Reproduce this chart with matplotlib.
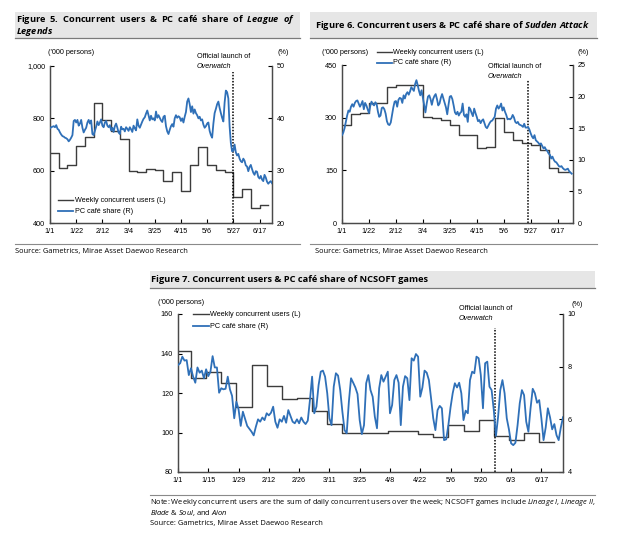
import matplotlib
matplotlib.use("Agg")
import matplotlib.pyplot as plt
from matplotlib import font_manager
from matplotlib.patches import Rectangle
from matplotlib.lines import Line2D
from matplotlib.transforms import Bbox
import numpy as np
import pandas as pd

# ---------------- DATA ----------------
ticks_21 = ["1/1", "1/22", "2/12", "3/4", "3/25", "4/15", "5/6", "5/27", "6/17"]
ticks_14 = ["1/1", "1/15", "1/29", "2/12", "2/26", "3/11", "3/25", "4/8", "4/22",
            "5/6", "5/20", "6/3", "6/17"]

# Figure 5: League of Legends
lol_users = [667, 610, 620, 695, 730, 858, 795, 752, 722, 598, 596, 606, 601,
             562, 594, 521, 620, 690, 620, 602, 594, 499, 531, 458, 470]
lol_share = [38.1, 38.3, 38.4, 38.5, 38.3, 38.7, 38.0, 37.8, 37.3, 36.9,
             36.6, 36.5, 36.3, 36.2, 36.0, 35.6, 35.9, 36.3, 36.8,
             39.5, 39.7, 39.2, 39.7, 38.6, 39.0, 39.7, 38.2, 37.3, 37.8,
             38.2, 39.2, 39.7, 39.0, 39.6, 37.0, 36.8, 37.6, 38.4, 39.4,
             38.7, 39.2, 39.8, 38.6, 38.3, 39.2, 39.5, 38.6, 38.3, 38.7,
             37.7, 38.2, 37.4, 38.5, 39.0, 38.2, 37.3, 37.0, 38.4, 37.9,
             38.0, 37.5, 38.3, 38.0, 37.6, 38.3, 37.9, 37.4, 38.6,
             38.1, 37.7, 39.8, 38.6, 38.2, 38.8, 39.4, 39.9, 40.2, 40.9,
             41.5, 40.6, 39.6, 40.5, 39.8, 40.0, 39.6, 41.3, 40.1, 40.6,
             40.1, 39.6, 39.3, 40.3, 40.5, 38.5, 37.5, 37.0, 37.8, 38.5,
             38.9, 38.4, 40.0, 40.6, 40.1, 40.4, 40.2, 39.5, 40.0,
             39.2, 40.3, 41.2, 43.2, 43.8, 42.7, 41.2, 42.3, 40.9, 41.7,
             41.0, 40.6, 40.0, 40.3, 39.6, 39.8, 38.8, 38.2, 38.5, 39.0,
             39.2, 37.6, 36.8, 36.3, 39.0, 41.0, 41.8, 42.7, 43.2, 42.0,
             41.0, 40.1, 39.4, 43.0, 45.3, 45.0, 43.8, 38.5, 35.3, 33.7,
             33.8, 35.0, 33.5, 32.9, 33.2, 32.3, 31.8, 31.6, 32.3, 31.9,
             31.0, 30.8, 29.9, 30.7, 31.1, 30.3, 29.6, 29.2, 29.9, 29.8,
             28.8, 28.5, 29.0, 28.3, 28.0, 29.2, 28.7, 27.9, 27.5,
             27.8, 28.0, 27.6]

# Figure 6: Sudden Attack
sa_users = [279, 310, 313, 341, 341, 388, 393, 394, 394, 303, 300, 292, 279,
            251, 251, 213, 217, 298, 260, 236, 229, 222, 208, 156, 146]
sa_share = [13.9, 14.3, 15.0, 16.0, 17.0, 17.8, 17.6, 18.4, 18.8, 18.4,
            19.0, 19.3, 19.4, 18.9, 18.4, 18.8, 19.3, 18.0, 19.0, 18.6,
            18.0, 17.4, 18.5, 19.2, 18.8, 18.6, 19.1, 18.8, 17.6, 16.8,
            17.0, 18.2, 18.3, 18.0, 17.3, 16.1, 15.6, 15.5, 15.9, 17.1,
            18.3, 19.2, 19.3, 18.4, 19.5, 19.8, 19.7, 19.0, 20.2, 19.7,
            20.4, 20.7, 20.3, 20.8, 21.5, 21.2, 20.9, 22.0, 22.6, 21.8,
            20.9, 20.2, 21.0, 19.8, 18.5, 17.5, 18.9, 20.0, 20.2, 19.6,
            18.7, 19.6, 20.1, 20.4, 19.6, 18.6, 18.9, 19.8, 20.4, 19.7,
            19.0, 18.3, 17.2, 18.7, 20.0, 20.1, 19.6, 18.6, 17.5, 17.2,
            17.6, 17.0, 17.4, 17.6, 18.9, 17.1, 16.8, 17.2, 16.0, 18.3,
            18.0, 17.4, 16.9, 18.1, 17.4, 16.8, 16.1, 16.3, 15.8, 16.2,
            16.4, 15.8, 15.2, 15.0, 15.4, 15.8, 16.1, 16.2, 16.5, 16.8,
            18.1, 18.6, 18.1, 18.4, 18.9, 17.8, 18.3, 17.6, 17.1, 16.4,
            16.5, 16.4, 16.6, 17.1, 16.7, 16.0, 15.8, 16.0, 15.6, 15.5,
            15.4, 15.2, 15.7, 15.1, 15.1, 15.2, 14.8, 14.2, 13.7, 13.4,
            13.9, 13.1, 12.9, 12.7, 12.4, 12.6, 12.2, 11.8, 12.0, 11.6,
            11.4, 11.0, 10.8, 10.2, 10.5, 10.0, 9.7, 9.6, 9.3, 9.0,
            8.9, 9.0, 8.7, 8.5, 8.4, 8.5, 8.6, 8.2, 8.0, 7.8]

# Figure 7: NCSOFT games
nc_users = [141.4, 127.8, 130.8, 125.2, 113.1, 134.2, 123.5, 116.8, 117.3,
            110.9, 104.1, 99.9, 99.9, 99.6, 100.9, 100.9, 99.2, 97.9, 103.8,
            100.9, 106.3, 98.2, 96.2, 99.6, 95.0]
nc_share = [8.06, 8.13, 8.38, 8.23, 8.25, 7.68, 7.94, 7.62, 7.39, 7.97,
            7.77, 7.85, 7.56, 7.90, 7.64, 7.81, 8.40, 7.97, 7.97, 7.01,
            7.18, 7.14, 7.16, 7.62, 7.14, 6.89, 6.04, 6.67, 6.38, 5.75,
            6.29, 6.02, 5.75, 5.64, 5.53, 5.39, 5.72, 6.00, 5.91, 6.07,
            5.97, 6.23, 6.15, 6.25, 6.48, 5.91, 5.68, 6.00, 5.91, 6.13,
            5.87, 6.35, 6.13, 5.91, 5.85, 6.00, 5.85, 6.07, 5.91, 5.82,
            5.95, 6.73, 7.62, 6.23, 6.48, 7.30, 7.81, 7.85, 7.62, 6.99,
            6.04, 5.78, 7.24, 7.75, 7.66, 7.11, 6.29, 5.59, 5.47, 6.67,
            7.56, 7.39, 7.21, 6.96, 5.97, 5.44, 5.78, 7.37, 7.68,
            7.11, 6.86, 6.10, 5.66, 7.18, 7.68, 7.43, 7.62, 7.81, 6.23,
            6.54, 7.49, 7.68, 7.39, 5.78, 7.24, 7.64, 7.56, 6.73, 8.32,
            8.23, 8.48, 8.38, 6.86, 7.21, 7.85, 7.77, 7.49, 6.80, 6.04,
            5.59, 6.35, 6.51, 6.42, 5.21, 5.24, 5.78, 6.45, 6.99, 7.37,
            7.21, 7.39, 6.99, 5.97, 6.33, 6.23, 7.49, 7.81, 7.75, 8.38,
            8.32, 7.68, 6.42, 8.13, 8.19, 7.24, 7.11, 6.35, 5.37, 6.10,
            7.11, 7.49, 6.99, 6.04, 5.62, 5.09, 5.02, 5.11, 5.78, 6.61,
            7.11, 6.92, 5.91, 5.53, 6.42, 7.16, 6.99, 6.63, 6.73, 6.04,
            5.21, 5.69, 6.42, 6.08, 5.62, 5.82, 5.40, 5.21, 5.69, 6.08]

# ---------------- STYLE / HELPERS ----------------
names = {f.name for f in font_manager.fontManager.ttflist}
NARROW = 'Liberation Sans Narrow' if 'Liberation Sans Narrow' in names else 'Liberation Sans'
BODY = 'Open Sans' if 'Open Sans' in names else 'DejaVu Sans'
plt.rcParams['font.family'] = [NARROW, 'DejaVu Sans']
plt.rcParams['mathtext.fontset'] = 'custom'
plt.rcParams['mathtext.it'] = BODY + ':italic'
plt.rcParams['mathtext.bf'] = BODY + ':italic:bold'
plt.rcParams['mathtext.rm'] = BODY

BLUE = '#2f70b8'
BLACK = '#3c3c3c'
SPINE = '#4a4a4a'
BAND = '#e6e6e6'
LAB = 5.2
TITLE = 6.65
SMALL = 5.4

W, H = 620, 544
fig = plt.figure(figsize=(6.2, 5.44), dpi=100)


def X(px):
    return px / W


def Y(py):
    return 1 - py / H


def day_of(md):
    d = pd.to_datetime("2016/" + md, format="%Y/%m/%d")
    return (d - pd.Timestamp("2016-01-01")).days


def fig_line(x0, x1, y0, y1, **kw):
    fig.add_artist(Line2D([X(x0), X(x1)], [Y(y0), Y(y1)], **kw))


def ftext(x, y, s, size, family=BODY, weight='normal', clip=None, **kw):
    t = fig.text(X(x), Y(y), s, fontsize=size, family=family, weight=weight,
                 va='center', ha='left', zorder=6, **kw)
    if clip is not None:
        t.set_clip_box(Bbox.from_extents(clip[0], 0, clip[1], H))
        t.set_clip_on(True)
    return t


def band(x0, x1, y0, y1):
    fig.add_artist(Rectangle((X(x0), Y(y1)), X(x1) - X(x0), Y(y0) - Y(y1),
                             transform=fig.transFigure, facecolor=BAND,
                             edgecolor='none', zorder=5))
    fig_line(x0, x1, y1, y1, color='#7a7a7a', lw=0.9, zorder=5)


def make_panel(l, r, t, b, xmax, xticks, lticks, llabels, rticks, rlabels):
    ax = fig.add_axes([X(l), Y(b), X(r) - X(l), Y(t) - Y(b)])
    ax2 = ax.twinx()
    for a in (ax, ax2):
        a.spines['top'].set_visible(False)
        for s in a.spines.values():
            s.set_linewidth(0.9)
            s.set_color(SPINE)
        a.tick_params(direction='in', length=3, width=0.8, labelsize=LAB,
                      pad=3.5, colors='black')
        a.patch.set_visible(False)
    ax.set_xlim(0, xmax)
    ax.set_xticks([day_of(tk) for tk in xticks])
    ax.set_xticklabels(xticks)
    ax.set_ylim(lticks[0], lticks[-1])
    ax.set_yticks(lticks)
    ax.set_yticklabels(llabels)
    ax2.set_ylim(rticks[0], rticks[-1])
    ax2.set_yticks(rticks)
    ax2.set_yticklabels(rlabels)
    return ax, ax2


def draw_series(ax, ax2, users, first_week_day, end_day, share):
    xs = [first_week_day + 7 * i for i in range(len(users))] + [end_day]
    ys = list(users) + [users[-1]]
    ax.step(xs, ys, where='post', color=BLACK, lw=1.0, zorder=2)
    ax2.plot(np.arange(len(share)), share, color=BLUE, lw=1.3, zorder=3)


def legend(x0, x1, y_top, y_bot, xt):
    fig_line(x0, x1, y_top, y_top, color=BLACK, lw=1.0)
    fig_line(x0, x1, y_bot, y_bot, color=BLUE, lw=1.3)
    fig.text(X(xt), Y(y_top), 'Weekly concurrent users (L)', fontsize=LAB,
             va='center', ha='left')
    fig.text(X(xt), Y(y_bot), 'PC café share (R)', fontsize=LAB,
             va='center', ha='left')


def launch_note(x, y1, y2):
    fig.text(X(x), Y(y1), 'Official launch of', fontsize=LAB, va='center', ha='left')
    fig.text(X(x), Y(y2), 'Overwatch', fontsize=LAB, style='italic', va='center', ha='left')


SOURCE = "Source: Gametrics, Mirae Asset Daewoo Research"

# ---------------- FIGURE 5 ----------------
ax, ax2 = make_panel(50, 272, 66, 223, 178, ticks_21,
                     [400, 600, 800, 1000], ['400', '600', '800', '1,000'],
                     [20, 30, 40, 50], ['20', '30', '40', '50'])
draw_series(ax, ax2, lol_users, 0, 175, lol_share)
ax.axvline(day_of("5/27"), ymin=0, ymax=0.96, color='black', lw=1.1, ls=(0, (1, 1)))
legend(58, 73, 200, 211, 75)
launch_note(197, 57, 67)
fig.text(X(48), Y(53), "('000 persons)", fontsize=LAB, va='center', ha='left')
fig.text(X(278), Y(53), "(%)", fontsize=LAB, va='center', ha='left')
band(15, 300, 12, 38)
ftext(16, 19, r"Figure  5.  Concurrent  users  &  PC  café  share  of  $\mathbf{League\ \ of}$",
      TITLE, weight='bold', clip=(0, 299))
ftext(16, 31.5, r"$\mathbf{Legends}$", TITLE, weight='bold')
fig_line(15, 300, 244, 244, color='#8a8a8a', lw=0.8)
ftext(15, 251, SOURCE, SMALL)

# ---------------- FIGURE 6 ----------------
ax, ax2 = make_panel(342, 573, 65, 223, 180, ticks_21,
                     [0, 150, 300, 450], ['0', '150', '300', '450'],
                     [0, 5, 10, 15, 20, 25], ['0', '5', '10', '15', '20', '25'])
draw_series(ax, ax2, sa_users, 0, 177, sa_share)
ax.axvline(day_of("5/25"), ymin=0, ymax=0.905, color='black', lw=1.1, ls=(0, (1, 1)))
legend(377, 392, 52, 63, 393)
launch_note(488, 66, 76)
fig.text(X(322), Y(52), "('000 persons)", fontsize=LAB, va='center', ha='left')
fig.text(X(577), Y(53), "(%)", fontsize=LAB, va='center', ha='left')
band(310, 597, 12, 38)
ftext(315, 25, r"Figure 6. Concurrent users & PC café share of $\mathbf{Sudden\ Attack}$",
      TITLE, weight='bold')
fig_line(310, 597, 244, 244, color='#8a8a8a', lw=0.8)
ftext(315, 251, SOURCE, SMALL)

# ---------------- FIGURE 7 ----------------
ax, ax2 = make_panel(178, 563, 314, 472, 178, ticks_14,
                     [80, 100, 120, 140, 160], ['80', '100', '120', '140', '160'],
                     [4, 6, 8, 10], ['4', '6', '8', '10'])
draw_series(ax, ax2, nc_users, -1, 174, nc_share)
ax.axvline(day_of("5/26") + 0.5, ymin=0, ymax=0.91, color='black', lw=1.1, ls=(0, (1, 1)))
legend(193, 209, 314, 326, 210)
launch_note(459, 308, 319)
fig.text(X(158), Y(303), "('000 persons)", fontsize=LAB, va='center', ha='left')
fig.text(X(571), Y(304), "(%)", fontsize=LAB, va='center', ha='left')
band(150, 595, 271, 288)
ftext(151, 280, "Figure 7. Concurrent users & PC café share of NCSOFT games", TITLE, weight='bold')
fig_line(150, 595, 495, 495, color='#8a8a8a', lw=0.8)
ftext(150, 502, r"Note: Weekly concurrent users are the sum of daily concurrent users over the week; "
      r"NCSOFT games include $\mathit{Lineage\ I}$, $\mathit{Lineage\ II}$,", SMALL)
ftext(150, 513, r"$\mathit{Blade}$ & $\mathit{Soul}$, and $\mathit{Aion}$", SMALL)
ftext(150, 524, SOURCE, SMALL)

fig.savefig("out.png", dpi=100)
